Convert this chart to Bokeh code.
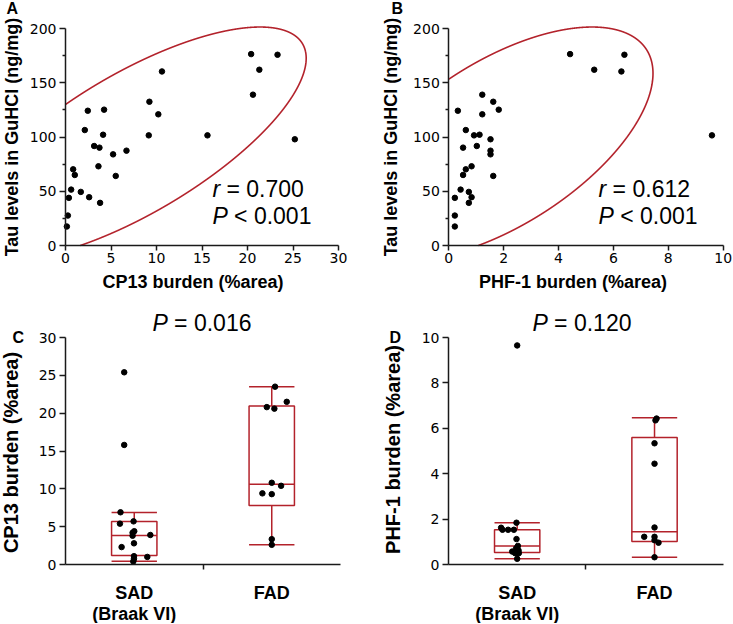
import numpy as np
from bokeh.plotting import figure
from bokeh.layouts import gridplot
from bokeh.models import Label, FixedTicker, Range1d
from bokeh.embed import file_html
from bokeh.resources import INLINE

# ---------------- data ----------------
tau = [17.5, 27.6, 43.9, 51.5, 70.2, 65.0, 49.4, 106.4, 124.2, 44.5, 91.7, 90.2, 73.0, 39.3,
       102.1, 125.2, 84.0, 64.1, 87.4, 101.5, 132.5, 120.9, 160.4, 101.5, 176.4, 139.0,
       162.0, 175.8, 97.9]
cp13 = [0.15, 0.26, 0.37, 0.62, 0.84, 1.02, 1.68, 2.12, 2.45, 2.60, 3.15, 3.73, 3.62, 3.80,
        4.13, 4.24, 5.23, 5.52, 6.70, 9.15, 9.22, 10.2, 10.6, 15.6, 20.4, 20.6, 21.3, 23.3, 25.2]
phf1 = [0.22, 0.22, 0.22, 0.43, 0.62, 0.52, 0.73, 0.62, 0.33, 0.83, 1.02, 0.52, 0.83, 0.73,
        1.12, 1.82, 1.52, 1.62, 1.52, 0.92, 1.62, 1.22, 6.29, 9.59, 4.42, 1.22, 5.30, 6.40, 1.52]

stats_a = ("0.700", "0.001")
stats_b = ("0.612", "0.001")

groups = ["SAD\n(Braak VI)", "FAD"]
group_pos = [0.5, 1.5]

# box stats: [low whisker, q1, median, q3, high whisker]
cp13_box = {"SAD": [0.44, 1.19, 3.84, 5.69, 6.88], "FAD": [2.60, 7.81, 10.59, 20.95, 23.5]}
phf1_box = {"SAD": [0.25, 0.53, 0.82, 1.53, 1.84], "FAD": [0.32, 1.01, 1.44, 5.59, 6.46]}

cp13_sad = [25.4, 15.8, 6.9, 5.4, 5.7, 4.4, 4.2, 3.8, 3.9, 2.8, 2.3, 1.0, 1.1, 0.75, 0.4]
cp13_sad_jit = [-0.073, -0.073, -0.10, -0.104, -0.005, 0.0, -0.012, -0.012, 0.117, -0.002,
                -0.092, 0.095, -0.002, -0.002, -0.007]
cp13_fad = [23.5, 21.5, 20.8, 20.6, 10.8, 10.4, 9.4, 9.3, 3.35, 2.6]
cp13_fad_jit = [0.024, 0.109, -0.036, 0.019, 0.0, 0.068, -0.068, 0.0, 0.0, 0.0]

phf1_sad = [9.65, 1.84, 1.62, 1.53, 1.53, 1.53, 1.12, 0.82, 0.72, 0.62, 0.57, 0.50, 0.50, 0.25]
phf1_sad_jit = [0.0, -0.005, -0.117, -0.107, -0.066, -0.024, -0.005, 0.005, -0.007, 0.010,
                -0.036, -0.015, 0.012, 0.0]
phf1_fad = [6.35, 6.43, 5.34, 4.44, 1.63, 1.22, 1.22, 1.07, 0.96, 0.32]
phf1_fad_jit = [0.007, 0.015, 0.0, 0.0, 0.0, -0.075, 0.0, 0.0, 0.029, 0.0]

P_C = "0.016"
P_D = "0.120"

RED = "#B3222B"
AX = "#1a1a1a"
TICK_FONT = "DejaVu Sans"
LAB_FONT = "Liberation Sans"


def make_fig(width, height, x0c, x1c, xv0, xv1, y0c, y1c, yv0, yv1):
    """Figure whose frame fills the canvas; value xv0 sits at canvas px x0c, etc."""
    sx = (x1c - x0c) / (xv1 - xv0)
    sy = (y0c - y1c) / (yv1 - yv0)
    xr = Range1d(xv0 - x0c / sx, xv0 + (width - x0c) / sx)
    yr = Range1d(yv0 - (height - y0c) / sy, yv0 + y0c / sy)
    p = figure(width=width, height=height, output_backend="svg", toolbar_location=None,
               x_range=xr, y_range=yr, min_border=0, title=None)
    p.xgrid.visible = False
    p.ygrid.visible = False
    p.outline_line_color = None

    def to_data(cxp, cyp):
        return xv0 + (cxp - x0c) / sx, yv0 + (y0c - cyp) / sy
    return p, to_data


def style_axes(p, xb, yb):
    for ax in (p.xaxis[0], p.yaxis[0]):
        ax.fixed_location = 0
        ax.axis_label = None
        ax.axis_line_color = AX
        ax.axis_line_width = 1.5
        ax.major_tick_line_color = AX
        ax.major_tick_line_width = 1.5
        ax.minor_tick_line_color = AX
        ax.minor_tick_line_width = 1.5
        ax.major_tick_in = 0
        ax.minor_tick_in = 0
        ax.minor_tick_out = 3
        ax.major_label_text_font = TICK_FONT
        ax.major_label_text_font_size = "14px"
        ax.major_label_text_color = "black"
    p.xaxis[0].bounds = xb
    p.yaxis[0].bounds = yb
    p.xaxis[0].major_tick_out = 5
    p.xaxis[0].major_label_standoff = 2
    p.yaxis[0].major_tick_out = 6
    p.yaxis[0].major_label_standoff = 3


def text(p, pos, t, size, style="normal", align="left", angle=0, x_offset=0):
    p.add_layout(Label(x=pos[0], y=pos[1], text=t, text_font=LAB_FONT, text_font_style=style,
                       text_font_size=size, text_align=align, text_baseline="middle",
                       angle=angle, angle_units="deg", x_offset=x_offset, text_color="black"))


def mixed(p, pos, ital, rest, off, size="23px"):
    text(p, pos, ital, size, style="italic")
    text(p, pos, rest, size, x_offset=off)


def ellipse_pts(x, y, chi2=5.991, n=20000):
    x = np.asarray(x, float)
    y = np.asarray(y, float)
    L = np.linalg.cholesky(np.cov(x, y))
    t = np.linspace(0, 2 * np.pi, n)
    e = np.array([[x.mean()], [y.mean()]]) + np.sqrt(chi2) * (L @ np.vstack([np.cos(t), np.sin(t)]))
    ex, ey = e[0], e[1]
    out = (ex < 0) | (ey < 0)
    if out.any():
        k = int(np.argmax(out))
        ex, ey, out = np.roll(ex, -k), np.roll(ey, -k), np.roll(out, -k)
    ex = np.where(out, np.nan, ex)
    ey = np.where(out, np.nan, ey)
    return ex, ey


def scatter_panel(xv, xmax, xticks, xlabel, width, x0c, x1c, stats, sxpos, let, let_c, ylab_c, xlab_c):
    p, D = make_fig(width, 310, x0c, x1c, 0, xmax, 245, 28, 0, 200)
    style_axes(p, (0, xmax), (0, 200))
    p.xaxis[0].ticker = FixedTicker(ticks=xticks)
    p.yaxis[0].ticker = FixedTicker(ticks=[0, 50, 100, 150, 200], minor_ticks=[25, 75, 125, 175])
    ex, ey = ellipse_pts(xv, tau)
    p.line(ex, ey, line_color=RED, line_width=1.6)
    p.scatter(xv, tau, size=5.5, color="black")
    mixed(p, (sxpos, 51.8), "r", "= " + stats[0], off=14.0)
    mixed(p, (sxpos, 27.4), "P", "< " + stats[1], off=21.6)
    text(p, D(*let_c), let, "16px", style="bold")
    text(p, D(*ylab_c), "Tau levels in GuHCl (ng/mg)", "18px", style="bold", align="center", angle=90)
    text(p, D(*xlab_c), xlabel, "18px", style="bold", align="center")
    return p


pA = scatter_panel(cp13, 30, [0, 5, 10, 15, 20, 25, 30], "CP13 burden (%area)", 365, 65, 338,
                   stats_a, 16.15, "A", (6, 7.5), (11, 136.5), (192.5, 281.3))
pB = scatter_panel(phf1, 10, [0, 2, 4, 6, 8, 10], "PHF-1 burden (%area)", 367, 83.3, 357.7,
                   stats_b, 5.46, "B", (26, 7.5), (25.8, 136.5), (207.5, 281.3))


def box_panel(box, sad, sadj, fad, fadj, ymax, yticks, ylabel, width, x0c, x1c,
              ptxt, let, let_c, ylab_c, p_c):
    p, D = make_fig(width, 313, x0c, x1c, 0, 2, 254, 27, 0, ymax)
    style_axes(p, (0, 2), (0, ymax))
    p.yaxis[0].ticker = FixedTicker(ticks=yticks)
    xa = p.xaxis[0]
    xa.ticker = FixedTicker(ticks=group_pos, minor_ticks=[1.0])
    xa.major_label_overrides = {group_pos[0]: groups[0], group_pos[1]: groups[1]}
    xa.major_tick_out = 0
    xa.major_tick_line_color = None
    xa.minor_tick_out = 5
    xa.major_label_standoff = 13
    xa.major_label_text_font = LAB_FONT
    xa.major_label_text_font_style = "bold"
    xa.major_label_text_font_size = "18px"
    xa.major_label_text_line_height = 1.05
    hw = 0.165
    for g, pos in zip(["SAD", "FAD"], group_pos):
        lo, q1, med, q3, hi = box[g]
        p.quad(left=[pos - hw], right=[pos + hw], bottom=[q1], top=[q3], fill_color=None,
               line_color=RED, line_width=1.5)
        p.segment(x0=[pos - hw, pos, pos, pos - hw, pos - hw], x1=[pos + hw, pos, pos, pos + hw, pos + hw],
                  y0=[med, q3, q1, hi, lo], y1=[med, hi, lo, hi, lo], line_color=RED, line_width=1.5)
    p.scatter([group_pos[0] + j for j in sadj], sad, size=5.5, color="black")
    p.scatter([group_pos[1] + j for j in fadj], fad, size=5.5, color="black")
    mixed(p, D(*p_c), "P", "= " + ptxt, off=21.6)
    text(p, D(*let_c), let, "16px", style="bold")
    text(p, D(*ylab_c), ylabel, "20px", style="bold", align="center", angle=90)
    return p


pC = box_panel(cp13_box, cp13_sad, cp13_sad_jit, cp13_fad, cp13_fad_jit, 30,
               [0, 5, 10, 15, 20, 25, 30], "CP13 burden (%area)", 365, 65, 340, P_C,
               "C", (12, 26.7), (10, 142), (152, 12.8))
pD = box_panel(phf1_box, phf1_sad, phf1_sad_jit, phf1_fad, phf1_fad_jit, 10,
               [0, 2, 4, 6, 8, 10], "PHF-1 burden (%area)", 367, 83, 357.7, P_D,
               "D", (24, 26.7), (27, 139), (167, 12.8))

grid = gridplot([[pA, pB], [pC, pD]], toolbar_location=None)

with open("out.html", "w") as f:
    f.write(file_html(grid, INLINE))
